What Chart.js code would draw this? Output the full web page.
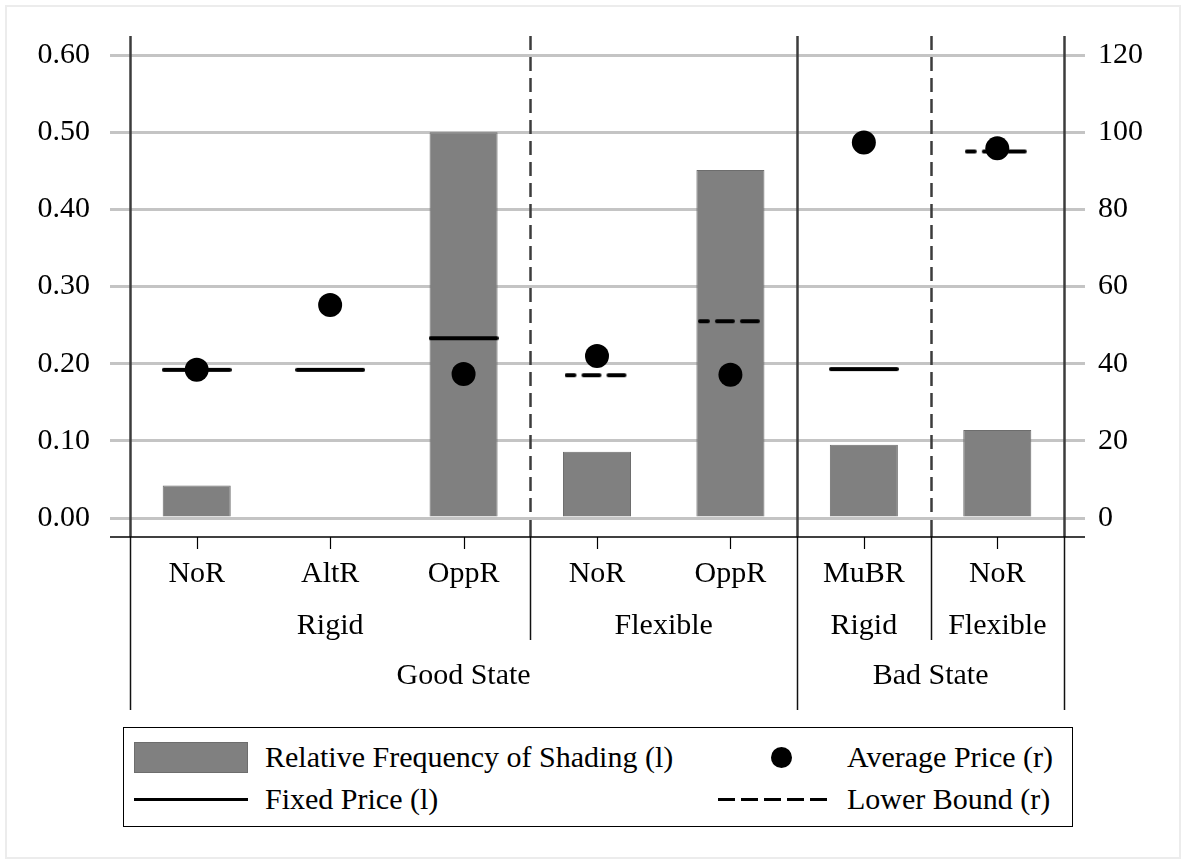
<!DOCTYPE html>
<html>
<head>
<meta charset="utf-8">
<script src="https://cdn.jsdelivr.net/npm/chart.js@4.4.1/dist/chart.umd.min.js"></script>
<style>
html,body{margin:0;padding:0;background:#fff;}
#wrap{position:relative;width:1186px;height:864px;overflow:hidden;font-family:'Liberation Serif','Times New Roman',serif;}
#frame{position:absolute;left:5px;top:5px;width:1176px;height:854px;border:2px solid #ececec;box-sizing:border-box;}
#c{position:absolute;left:0;top:0;}
#legend{position:absolute;left:123px;top:727px;width:950px;height:100px;border:1.5px solid #000;box-sizing:border-box;background:#fff;}
.lt{position:absolute;font-size:30px;height:34px;line-height:34px;white-space:nowrap;color:#000;}
.sw{position:absolute;}
</style>
</head>
<body>
<div id="wrap">
  <div id="frame"></div>
  <canvas id="c" width="1186" height="720"></canvas>
  <div id="legend">
    <div class="sw" style="left:10px;top:14px;width:114px;height:31px;background:#808080;border:1px solid #6d6d6d;box-sizing:border-box;"></div>
    <div class="lt" style="left:141px;top:12px;">Relative Frequency of Shading (l)</div>
    <div class="sw" style="left:647px;top:19px;width:21px;height:21px;border-radius:50%;background:#000;"></div>
    <div class="lt" style="left:723px;top:12px;">Average Price (r)</div>
    <div class="sw" style="left:10px;top:70px;width:114px;height:3px;background:#000;"></div>
    <div class="lt" style="left:141px;top:54px;">Fixed Price (l)</div>
    <div class="sw" style="left:594px;top:70px;width:112px;height:3px;background:repeating-linear-gradient(to right,#000 0px,#000 17px,transparent 17px,transparent 23px);"></div>
    <div class="lt" style="left:723px;top:54px;">Lower Bound (r)</div>
  </div>
</div>
<script>
// ---- data ----
const categories = ['NoR', 'AltR', 'OppR', 'NoR', 'OppR', 'MuBR', 'NoR'];
const regimeGroups = [
  { label: 'Rigid', from: 0, to: 2 },
  { label: 'Flexible', from: 3, to: 4 },
  { label: 'Rigid', from: 5, to: 5 },
  { label: 'Flexible', from: 6, to: 6 }
];
const stateGroups = [
  { label: 'Good State', from: 0, to: 4 },
  { label: 'Bad State', from: 5, to: 6 }
];
const shadingFreq = [0.042, 0, 0.500, 0.086, 0.451, 0.095, 0.114];   // left axis
const fixedPrice  = [0.192, 0.192, 0.233, null, null, 0.193, null];  // left axis
const avgPrice    = [38.4, 55.2, 37.3, 42.0, 37.1, 97.3, 95.8];      // right axis
const lowerBound  = [null, null, null, 37, 51, null, 95];            // right axis
const leftTicksMax = 0.6, leftStep = 0.1;
const rightTicksMax = 120, rightStep = 20;

const FONT = "'Liberation Serif', 'Times New Roman', serif";
Chart.defaults.font.family = FONT;
Chart.defaults.font.size = 30;
Chart.defaults.color = '#000';

function lineImg(w, h, dash, offset) {
  const c = document.createElement('canvas');
  c.width = w; c.height = h + 2;
  const g = c.getContext('2d');
  g.strokeStyle = '#000';
  g.lineWidth = h;
  g.lineCap = 'round';
  if (dash) { g.setLineDash(dash); g.lineDashOffset = offset || 0; }
  g.beginPath();
  g.moveTo(h / 2, (h + 2) / 2);
  g.lineTo(w - h / 2, (h + 2) / 2);
  g.stroke();
  return c;
}
const solidImg = lineImg(70, 4);
const dashImg = lineImg(65, 4, [16, 9], 8);

const groupPlugin = {
  id: 'groups',
  beforeDatasetsDraw(chart) {
    const ctx = chart.ctx, a = chart.chartArea, xs = chart.scales.x;
    const n = categories.length;
    const px = i => xs.getPixelForValue(i);
    const bound = k => k === 0 ? a.left : (k === n ? a.right : (px(k - 1) + px(k)) / 2);
    const axisY = a.bottom + 19, topY = a.top - 19;
    const row2Y = axisY + 89, row3Y = axisY + 139;
    const regEnd = axisY + 103, stateEnd = axisY + 173;
    ctx.save();
    const stateBounds = new Set([0, n]);
    stateGroups.forEach(g => { stateBounds.add(g.from); stateBounds.add(g.to + 1); });
    const regBounds = new Set();
    regimeGroups.forEach(g => { regBounds.add(g.from); regBounds.add(g.to + 1); });
    for (let k = 0; k <= n; k++) {
      const x = Math.round(bound(k)) + 0.5;
      if (stateBounds.has(k)) {
        ctx.setLineDash([]);
        ctx.strokeStyle = '#3c3c3c'; ctx.lineWidth = 2.5;
        ctx.beginPath(); ctx.moveTo(x, topY); ctx.lineTo(x, axisY); ctx.stroke();
        ctx.strokeStyle = '#111'; ctx.lineWidth = 1.5;
        ctx.beginPath(); ctx.moveTo(x, axisY); ctx.lineTo(x, stateEnd); ctx.stroke();
      } else if (regBounds.has(k)) {
        ctx.strokeStyle = '#3c3c3c'; ctx.lineWidth = 2.5;
        ctx.setLineDash([14, 7]);
        ctx.beginPath(); ctx.moveTo(x, topY); ctx.lineTo(x, a.bottom - 4); ctx.stroke();
        ctx.setLineDash([]);
        ctx.beginPath(); ctx.moveTo(x, a.bottom + 2); ctx.lineTo(x, axisY); ctx.stroke();
        ctx.strokeStyle = '#111'; ctx.lineWidth = 1.5;
        ctx.beginPath(); ctx.moveTo(x, axisY); ctx.lineTo(x, regEnd); ctx.stroke();
      }
    }
    ctx.setLineDash([]);
    ctx.strokeStyle = '#000'; ctx.lineWidth = 1.5;
    ctx.beginPath(); ctx.moveTo(a.left - 20, axisY); ctx.lineTo(a.right + 21, axisY); ctx.stroke();
    ctx.lineWidth = 1.2;
    for (let i = 0; i < n; i++) {
      const x = Math.round(px(i)) + 0.5;
      ctx.beginPath(); ctx.moveTo(x, axisY); ctx.lineTo(x, axisY + 12); ctx.stroke();
    }
    ctx.fillStyle = '#000';
    ctx.font = '30px ' + FONT;
    ctx.textAlign = 'center';
    ctx.textBaseline = 'middle';
    regimeGroups.forEach(g => {
      ctx.fillText(g.label, (bound(g.from) + bound(g.to + 1)) / 2, row2Y);
    });
    stateGroups.forEach(g => {
      ctx.fillText(g.label, (bound(g.from) + bound(g.to + 1)) / 2, row3Y);
    });
    ctx.restore();
  }
};

new Chart(document.getElementById('c'), {
  type: 'bar',
  data: {
    labels: categories,
    datasets: [
      {
        type: 'line', label: 'Average Price (r)', data: avgPrice, yAxisID: 'y1',
        showLine: false, pointRadius: 12, pointBackgroundColor: '#000',
        pointBorderWidth: 0, pointBorderColor: '#000', order: 1
      },
      {
        type: 'line', label: 'Lower Bound (r)', data: lowerBound, yAxisID: 'y1',
        showLine: false, pointStyle: dashImg, pointRadius: 5, order: 2
      },
      {
        type: 'line', label: 'Fixed Price (l)', data: fixedPrice, yAxisID: 'y',
        showLine: false, pointStyle: solidImg, pointRadius: 5, order: 3
      },
      {
        type: 'bar', label: 'Relative Frequency of Shading (l)', data: shadingFreq, yAxisID: 'y',
        backgroundColor: '#808080', borderColor: '#6d6d6d', borderWidth: 1,
        categoryPercentage: 1.0, barPercentage: 0.51, order: 4
      }
    ]
  },
  options: {
    responsive: false,
    animation: false,
    events: [],
    layout: { padding: { top: 55, left: 0, right: 0, bottom: 0 } },
    plugins: { legend: { display: false }, tooltip: { enabled: false } },
    scales: {
      x: {
        offset: true,
        border: { display: false },
        grid: { display: false, drawTicks: false },
        ticks: { padding: 38, font: { size: 30 }, color: '#000', maxRotation: 0 },
        afterFit: s => { s.height = 202; }
      },
      y: {
        position: 'left', min: 0, max: leftTicksMax,
        border: { display: false },
        grid: { color: '#c4c4c4', lineWidth: 3, tickLength: 20, tickColor: '#c4c4c4', tickWidth: 3 },
        ticks: { stepSize: leftStep, padding: 20, callback: v => Number(v).toFixed(2), font: { size: 30 } },
        afterFit: s => { s.width = 130; }
      },
      y1: {
        position: 'right', min: 0, max: rightTicksMax,
        border: { display: false },
        grid: { drawOnChartArea: false, tickLength: 21, tickColor: '#c4c4c4', tickWidth: 3, color: '#c4c4c4' },
        ticks: { stepSize: rightStep, padding: 13, font: { size: 30 } },
        afterFit: s => { s.width = 1186 - 1064; }
      }
    }
  },
  plugins: [groupPlugin]
});
</script>
</body>
</html>
